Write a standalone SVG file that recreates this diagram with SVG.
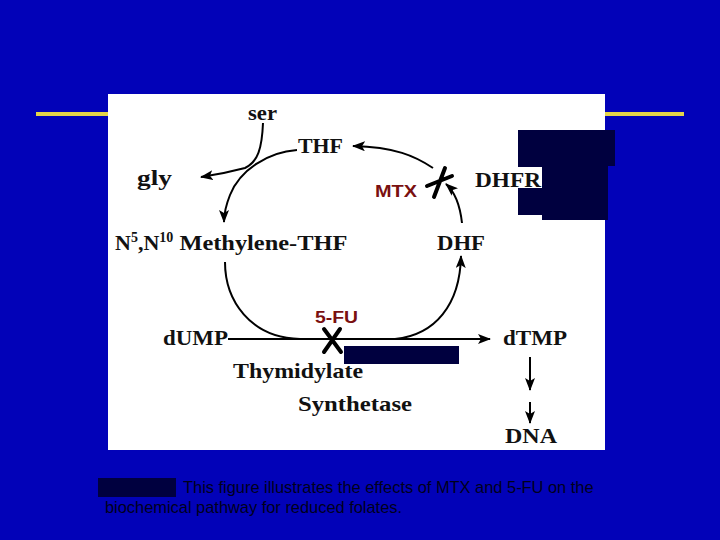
<svg xmlns="http://www.w3.org/2000/svg" width="720" height="540" viewBox="0 0 720 540">
<defs>
<marker id="ah" viewBox="0 0 13 10" refX="12" refY="5" markerWidth="13" markerHeight="10" markerUnits="userSpaceOnUse" orient="auto">
<path d="M0,0 L13,5 L0,10 L3,5 Z" fill="#000"/>
</marker>
<style>
.lbl{font-family:"Liberation Serif","Times New Roman",serif;font-weight:bold;font-size:22px;fill:#111}
.drug{font-family:"Liberation Sans",Arial,sans-serif;font-weight:bold;font-size:16px;fill:#7a1010}
.cap{font-family:"Liberation Sans",Arial,sans-serif;font-size:16.4px;fill:#00001c}
.ln{fill:none;stroke:#000;stroke-width:2}
.blk{fill:#00003f}
.xm{stroke:#000;stroke-width:4;stroke-linecap:round;fill:none}
</style>
</defs>
<rect width="720" height="540" fill="#0202b8"/>
<rect x="36" y="112" width="648" height="4" fill="#e4d54a"/>
<rect x="108" y="94" width="497" height="356" fill="#fff"/>

<g id="redactions">
<path class="blk" d="M518,130 H615 V166 H608 V220 H542 V215 H518 Z"/>
<rect x="518" y="167" width="24" height="21" fill="#fff"/>
<rect class="blk" x="344" y="346" width="115" height="18"/>
<rect class="blk" x="98" y="478" width="78" height="19"/>
</g>

<g id="connectors">
<path class="ln" d="M263,123 C262,148 258,162 245,168 C230,172 215,175 201,177" marker-end="url(#ah)"/>
<path class="ln" d="M297,150 C268,152 240,170 230,195 C226,205 224,213 224,222" marker-end="url(#ah)"/>
<path class="ln" d="M433,168 C415,156 395,147 353,146" marker-end="url(#ah)"/>
<path class="ln" d="M462,223 C460,205 455,192 446,184" marker-end="url(#ah)"/>
<path class="ln" d="M225,262 C225,300 250,338 300,339 M395,339 C435,335 460,305 461,256" marker-end="url(#ah)"/>
<path class="ln" d="M228,339 L490,339" marker-end="url(#ah)"/>
<path class="ln" d="M530,357 L530,390" marker-end="url(#ah)"/>
<path class="ln" d="M530,402 L530,423" marker-end="url(#ah)"/>
</g>

<g id="ser"><text class="lbl" x="248" y="120" font-size="20" textLength="29" lengthAdjust="spacingAndGlyphs">ser</text></g>
<g id="thf"><text class="lbl" x="298" y="153" textLength="45" lengthAdjust="spacingAndGlyphs">THF</text></g>
<g id="gly"><text class="lbl" x="137" y="185" textLength="35" lengthAdjust="spacingAndGlyphs">gly</text></g>
<g id="mtx">
<text class="drug" x="375" y="197" textLength="42" lengthAdjust="spacingAndGlyphs">MTX</text>
<path class="xm" d="M445,168 L434,197 M427,186 L452,176"/>
</g>
<g id="dhfr"><text class="lbl" x="475" y="187" textLength="66" lengthAdjust="spacingAndGlyphs">DHFR</text></g>
<g id="methylene-thf"><text class="lbl" x="115" y="250">N<tspan font-size="14" dy="-8">5</tspan><tspan dy="8">,N</tspan><tspan font-size="14" dy="-8">10</tspan><tspan dy="8" textLength="174" lengthAdjust="spacingAndGlyphs"> Methylene-THF</tspan></text></g>
<g id="dhf"><text class="lbl" x="437" y="250" textLength="48" lengthAdjust="spacingAndGlyphs">DHF</text></g>
<g id="fu">
<text class="drug" x="315" y="323" textLength="43" lengthAdjust="spacingAndGlyphs">5-FU</text>
<path class="xm" d="M324,329 L341,352 M340,329 L324,352"/>
</g>
<g id="dump"><text class="lbl" x="163" y="345" textLength="65" lengthAdjust="spacingAndGlyphs">dUMP</text></g>
<g id="dtmp"><text class="lbl" x="503" y="345" textLength="64" lengthAdjust="spacingAndGlyphs">dTMP</text></g>
<g id="ts"><text class="lbl" x="233" y="378" textLength="130" lengthAdjust="spacingAndGlyphs">Thymidylate</text><text class="lbl" x="298" y="411" textLength="114" lengthAdjust="spacingAndGlyphs">Synthetase</text></g>
<g id="dna"><text class="lbl" x="505" y="443" textLength="52" lengthAdjust="spacingAndGlyphs">DNA</text></g>

<g id="caption">
<text class="cap" x="183" y="493">This figure illustrates the effects of MTX and 5-FU on the</text>
<text class="cap" x="105" y="513">biochemical pathway for reduced folates.</text>
</g>
</svg>
